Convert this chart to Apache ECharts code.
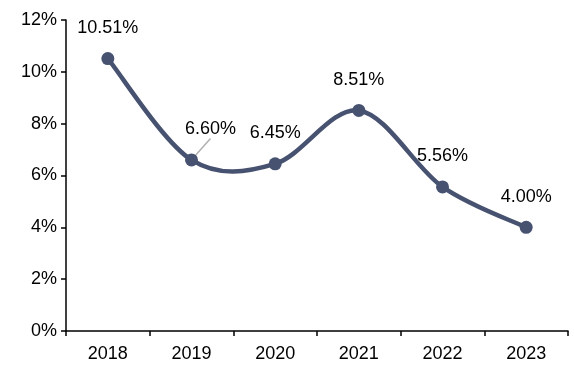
<!DOCTYPE html>
<html>
<head>
<meta charset="utf-8">
<script src="https://cdn.jsdelivr.net/npm/echarts@6/dist/echarts.min.js"></script>
<style>
  html, body { margin: 0; padding: 0; background: #fff; }
  #chart { width: 574px; height: 367px; }
</style>
</head>
<body>
<div id="chart"></div>
<script>
// Yearly rate, percent
const years = ['2018', '2019', '2020', '2021', '2022', '2023'];
const rates = [10.51, 6.60, 6.45, 8.51, 5.56, 4.00];
const yTicks = { min: 0, max: 12, step: 2 };

const lineColor = '#465270';
const font = '"Liberation Sans", Arial, sans-serif';

// Cardinal-spline segment between point i and i+1 (tangent = (next - prev) / 6)
function renderSegment(params, api) {
  const i = params.dataIndex;
  const n = rates.length;
  if (i >= n - 1) return null;
  const pt = k => api.coord([Math.max(0, Math.min(n - 1, k)), rates[Math.max(0, Math.min(n - 1, k))]]);
  const p0 = pt(i - 1), p1 = pt(i), p2 = pt(i + 1), p3 = pt(i + 2);
  const t = 1 / 6;
  return {
    type: 'bezierCurve',
    shape: {
      x1: p1[0], y1: p1[1],
      x2: p2[0], y2: p2[1],
      cpx1: p1[0] + (p2[0] - p0[0]) * t, cpy1: p1[1] + (p2[1] - p0[1]) * t,
      cpx2: p2[0] - (p3[0] - p1[0]) * t, cpy2: p2[1] - (p3[1] - p1[1]) * t
    },
    style: { stroke: lineColor, lineWidth: 4.5, fill: null, lineCap: 'round' }
  };
}

const chart = echarts.init(document.getElementById('chart'));
chart.setOption({
  animation: false,
  grid: { left: 66, right: 6, top: 20, bottom: 36 },
  xAxis: {
    type: 'category',
    data: years,
    boundaryGap: true,
    axisLine: { lineStyle: { color: '#000', width: 1.5 } },
    axisTick: { show: true, length: 5, alignWithLabel: false, lineStyle: { color: '#000', width: 1.5 } },
    axisLabel: { color: '#000', fontSize: 18, fontFamily: font, margin: 14 }
  },
  yAxis: {
    type: 'value',
    min: yTicks.min,
    max: yTicks.max,
    interval: yTicks.step,
    axisLine: { show: true, lineStyle: { color: '#000', width: 1.5 } },
    axisTick: { show: true, length: 5, lineStyle: { color: '#000', width: 1.5 } },
    splitLine: { show: false },
    axisLabel: { color: '#000', fontSize: 18, fontFamily: font, margin: 9, formatter: '{value}%' }
  },
  series: [{
    type: 'custom',
    z: 2,
    data: rates.map((v, i) => [i, v]),
    encode: { x: 0, y: 1 },
    renderItem: renderSegment
  }, {
    type: 'line',
    z: 3,
    data: rates.map((v, i) => i === 1
      ? { value: v, labelLine: { show: true, lineStyle: { color: '#b0b0b0', width: 1.5 } } }
      : v),
    symbol: 'circle',
    symbolSize: 13,
    lineStyle: { opacity: 0 },
    itemStyle: { color: lineColor },
    label: {
      show: true,
      position: 'top',
      distance: 15,
      color: '#000',
      fontSize: 18,
      fontFamily: font,
      formatter: p => p.value.toFixed(2) + '%'
    },
    labelLayout: p => p.dataIndex === 1 ? { dx: 19, dy: 0 } : {}
  }]
});
</script>
</body>
</html>
